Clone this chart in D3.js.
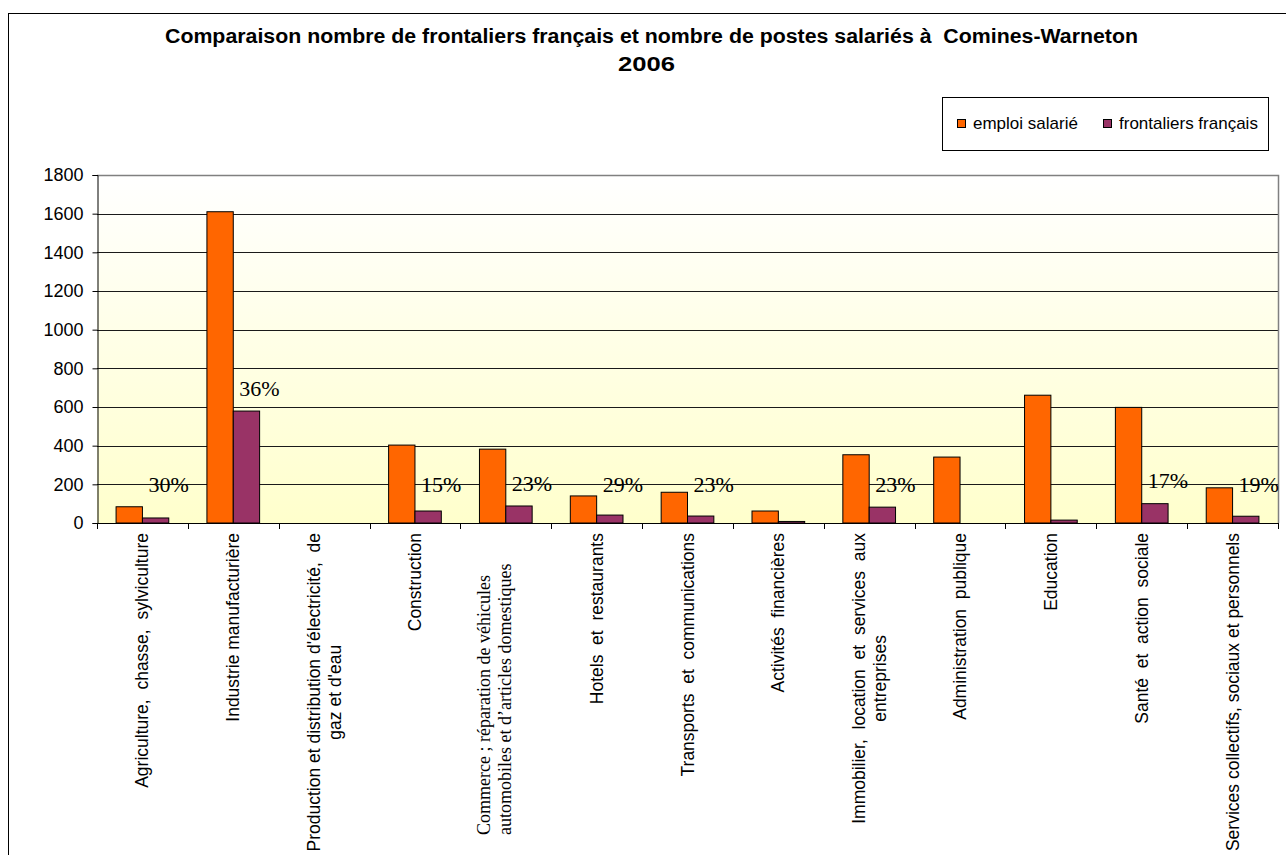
<!DOCTYPE html>
<html>
<head>
<meta charset="utf-8">
<script src="https://d3js.org/d3.v7.min.js"></script>
<style>
	body { margin: 0; background: #ffffff; }
	svg { display: block; }
</style>
</head>
<body>
<div id="chart"></div>
<script>
const categories = [
	["Agriculture,  chasse,  sylviculture"],
	["Industrie manufacturière"],
	["Production et distribution d'électricité,  de", "gaz et d'eau"],
	["Construction"],
	["Commerce ; réparation de véhicules", "automobiles et d\u2019articles domestiques"],
	["Hotels  et  restaurants"],
	["Transports  et  communications"],
	["Activités  financières"],
	["Immobilier,  location  et  services  aux", "entreprises"],
	["Administration  publique"],
	["Education"],
	["Santé  et  action  sociale"],
	["Services collectifs, sociaux et personnels"]
];
const emploiSalarie = [84, 1610, 0, 403, 382, 140, 159, 62, 353, 341, 661, 598, 182];
const frontaliers = [26, 579, 0, 62, 88, 41, 36, 8, 82, 0, 15, 100, 35];
const pctLabels = ["30%", "36%", "", "15%", "23%", "29%", "23%", "", "23%", "", "", "17%", "19%"];
const seriesNames = ["emploi salarié", "frontaliers français"];
const yTicks = [0, 200, 400, 600, 800, 1000, 1200, 1400, 1600, 1800];
const titleLines = ["Comparaison nombre de frontaliers français et nombre de postes salariés à  Comines-Warneton", "2006"];

const W = 1286, H = 855;
const plot = {left: 97, right: 1278, top: 175, bottom: 523};
const colors = ['#ff6600', '#993366'];
const sans = 'Arial, "Liberation Sans", sans-serif';
const serif = '"Times New Roman", "Liberation Serif", serif';

const svg = d3.select('#chart').append('svg')
	.attr('width', W)
	.attr('height', H);

// outer chart frame (runs off the bottom / right edge like the original)
svg.append('rect')
	.attr('x', 8.5).attr('y', 13.5)
	.attr('width', W + 20).attr('height', H + 20)
	.attr('fill', '#ffffff')
	.attr('stroke', '#000000');

const defs = svg.append('defs');
const grad = defs.append('linearGradient')
	.attr('id', 'bg').attr('x1', 0).attr('y1', 0).attr('x2', 0).attr('y2', 1);
grad.append('stop').attr('offset', '0%').attr('stop-color', '#ffffff');
grad.append('stop').attr('offset', '100%').attr('stop-color', '#ffffcc');

const idx = d3.range(categories.length);
const x0 = d3.scaleBand().domain(idx).range([plot.left, plot.right]);
const x1 = d3.scaleBand().domain([0, 1])
	.range([x0.bandwidth() * 0.21, x0.bandwidth() * 0.79]);
const y = d3.scaleLinear().domain([0, 1800]).range([plot.bottom, plot.top]);

svg.append('rect')
	.attr('x', plot.left).attr('y', plot.top)
	.attr('width', plot.right - plot.left).attr('height', plot.bottom - plot.top)
	.attr('fill', 'url(#bg)');

// gridlines
svg.append('g')
	.selectAll('line')
	.data(yTicks.filter(t => t > 0 && t < 1800))
	.enter()
	.append('line')
	.attr('x1', plot.left).attr('x2', plot.right)
	.attr('y1', t => Math.round(y(t)) + 0.5).attr('y2', t => Math.round(y(t)) + 0.5)
	.attr('stroke', '#1a1a1a');

// plot border (top + right grey)
svg.append('path')
	.attr('d', `M${plot.left},${plot.top + 0.5}H${plot.right + 0.5}V${plot.bottom}`)
	.attr('fill', 'none')
	.attr('stroke', '#808080')
	.attr('stroke-width', 1.5);

// bars
const series = [emploiSalarie, frontaliers];
series.forEach((vals, s) => {
	svg.append('g')
		.selectAll('rect')
		.data(vals.map((v, i) => ({i: i, v: v})).filter(d => d.v > 0))
		.enter()
		.append('rect')
		.attr('x', d => x0(d.i) + x1(s))
		.attr('y', d => y(d.v))
		.attr('width', x1.bandwidth())
		.attr('height', d => y(0) - y(d.v))
		.attr('fill', colors[s])
		.attr('stroke', '#000000')
		.attr('stroke-width', 1);
});

// y axis
const yAxis = d3.axisLeft(y).tickValues(yTicks).tickFormat(d3.format('d')).tickSize(5).tickPadding(9);
const gy = svg.append('g')
	.attr('transform', `translate(${plot.left + 0.5},0)`)
	.call(yAxis);
gy.select('.domain').attr('stroke', '#000000');
gy.selectAll('line').attr('stroke', '#000000');
gy.selectAll('text')
	.attr('font-family', sans)
	.attr('font-size', '18px')
	.attr('fill', '#000000');

// x axis: ticks at category boundaries
svg.append('line')
	.attr('x1', plot.left).attr('x2', plot.right)
	.attr('y1', plot.bottom + 0.5).attr('y2', plot.bottom + 0.5)
	.attr('stroke', '#000000');
svg.append('g')
	.selectAll('line')
	.data(d3.range(categories.length + 1))
	.enter()
	.append('line')
	.attr('x1', i => Math.round(plot.left + i * x0.step()) + 0.5)
	.attr('x2', i => Math.round(plot.left + i * x0.step()) + 0.5)
	.attr('y1', plot.bottom)
	.attr('y2', plot.bottom + 6)
	.attr('stroke', '#000000');

// category labels, rotated
const labelTop = plot.bottom + 10;
const lh = 21;
idx.forEach(i => {
	const lines = categories[i];
	const isSerif = i === 4;
	const cx = x0(i) + x0.bandwidth() / 2;
	const g = svg.append('g')
		.attr('transform', `translate(${cx},${labelTop}) rotate(-90)`);
	const texts = lines.map((ln, k) => g.append('text')
		.attr('font-family', isSerif ? serif : sans)
		.attr('font-size', isSerif ? '18px' : '17.5px')
		.attr('fill', '#000000')
		.attr('xml:space', 'preserve')
		.style('white-space', 'pre')
		.attr('y', (k - (lines.length - 1) / 2) * lh + 6 - (isSerif ? 11 : 0))
		.text(ln));
	if (isSerif) {
		texts.forEach(t => t.attr('text-anchor', 'start').attr('x', -(835 - labelTop)));
	} else {
		const maxW = d3.max(texts, t => t.node().getComputedTextLength());
		texts.forEach(t => t.attr('text-anchor', 'middle').attr('x', -maxW / 2));
	}
});

// percentage labels
svg.append('g')
	.selectAll('text')
	.data(pctLabels.map((p, i) => ({i: i, p: p})).filter(d => d.p))
	.enter()
	.append('text')
	.attr('x', d => x0(d.i) + x0.bandwidth() / 2 + 6)
	.attr('y', d => y(Math.max(160, frontaliers[d.i] + 80)))
	.attr('font-family', serif)
	.attr('font-size', '22px')
	.attr('fill', '#000000')
	.text(d => d.p);

// title
svg.append('text')
	.attr('x', 165).attr('y', 43)
	.attr('font-family', sans).attr('font-weight', 'bold').attr('font-size', '20px')
	.attr('xml:space', 'preserve').style('white-space', 'pre')
	.attr('textLength', 973).attr('lengthAdjust', 'spacingAndGlyphs')
	.text(titleLines[0]);
svg.append('text')
	.attr('x', 618).attr('y', 70.5)
	.attr('font-family', sans).attr('font-weight', 'bold').attr('font-size', '20px')
	.attr('textLength', 57).attr('lengthAdjust', 'spacingAndGlyphs')
	.text(titleLines[1]);

// legend
const legend = svg.append('g').attr('transform', 'translate(942,97)');
legend.append('rect')
	.attr('x', 0.5).attr('y', 0.5)
	.attr('width', 326).attr('height', 53)
	.attr('fill', '#ffffff')
	.attr('stroke', '#000000');
const legX = [15, 161];
seriesNames.forEach((name, s) => {
	legend.append('rect')
		.attr('x', legX[s] + 0.5).attr('y', 22.5)
		.attr('width', 8).attr('height', 8)
		.attr('fill', colors[s])
		.attr('stroke', '#000000');
	legend.append('text')
		.attr('x', legX[s] + 16).attr('y', 31.5)
		.attr('font-family', sans)
		.attr('font-size', '17px')
		.attr('fill', '#000000')
		.text(name);
});
</script>
</body>
</html>
